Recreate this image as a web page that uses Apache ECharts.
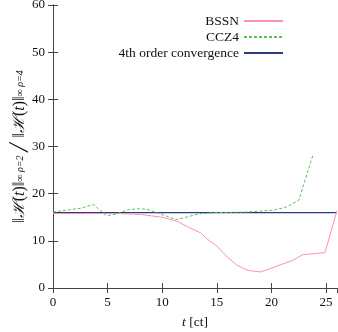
<!DOCTYPE html>
<html><head><meta charset="utf-8">
<script src="https://cdn.jsdelivr.net/npm/echarts@6/dist/echarts.min.js"></script>
<style>html,body{margin:0;padding:0;background:#fff}#c{width:338px;height:332px}</style>
</head><body><div id="c"></div>
<script>
const bsssnT = [0, 2, 4, 6, 8, 9, 10, 11.3, 12.5, 13.5, 14.1, 15, 15.6, 16.2, 16.8, 17.4, 17.9, 18.7, 19.0, 20.0, 20.8, 21.9, 22.9, 24.0, 24.9, 26.0];
const bssnV  = [15.8, 15.8, 15.8, 15.8, 15.6, 15.3, 15.0, 14.2, 12.8, 11.7, 10.4, 8.9, 7.4, 6.1, 4.9, 4.2, 3.7, 3.5, 3.4, 4.2, 4.9, 5.8, 7.1, 7.3, 7.5, 16.4];
const cczT = [0, 1.5, 2.5, 3.7, 4.9, 5.8, 6.9, 7.8, 8.6, 9.2, 10.2, 11.3, 12.5, 13.3, 15, 17.7, 20.2, 21.4, 22.5, 23.8];
const cczV = [16.1, 16.6, 16.9, 17.7, 15.3, 15.7, 16.6, 16.8, 16.7, 16.2, 15.4, 14.5, 15.2, 15.7, 16.0, 16.1, 16.5, 17.2, 18.6, 28.2];
const convT = [0, 26];
const convV = [16, 16];
const xTicks = [0, 5, 10, 15, 20, 25];
const yTicks = [0, 10, 20, 30, 40, 50, 60];

const pair = (a, b) => a.map((t, i) => [t, b[i]]);
const font = 'Liberation Serif';
const chart = echarts.init(document.getElementById('c'));
const axisLine = {show: true, lineStyle: {color: '#444', width: 1}};
chart.setOption({
  animation: false,
  grid: {left: 53, right: 1, top: 5, bottom: 44, containLabel: false, outerBoundsMode: 'none'},
  legend: {
    orient: 'vertical', right: 49, top: 9, align: 'right',
    itemWidth: 39, itemHeight: 10, itemGap: 2,
    itemStyle: {opacity: 0},
    textStyle: {fontFamily: font, fontSize: 13.5, color: '#111'},
    data: ['BSSN', 'CCZ4', '4th order convergence']
  },
  xAxis: [{
    type: 'value', min: 0, max: 26, interval: 5,
    axisLine, splitLine: {show: false},
    axisTick: {inside: true, length: 5, lineStyle: {color: '#444'}},
    axisLabel: {fontFamily: font, fontSize: 13, color: '#111', margin: 8, showMaxLabel: false},
    name: '{i|t} [ct]', nameLocation: 'middle', nameGap: 27, nameMoveOverlap: false,
    nameTextStyle: {fontFamily: font, fontSize: 13.5, color: '#111', rich: {i: {fontStyle: 'italic', fontFamily: font, fontSize: 13.5}}}
  }, {
    type: 'value', min: 0, max: 26, interval: 5, position: 'top',
    axisLine, splitLine: {show: false},
    axisTick: {inside: true, length: 5, lineStyle: {color: '#444'}},
    axisLabel: {show: false}
  }],
  yAxis: [{
    type: 'value', min: 0, max: 60, interval: 10,
    axisLine, splitLine: {show: false},
    axisTick: {inside: true, length: 5, lineStyle: {color: '#444'}},
    axisLabel: {fontFamily: font, fontSize: 13, color: '#111', margin: 8},
    name: '‖{i|ℋ}({i|t})‖{s|∞ ρ=2} ╱ ‖{i|ℋ}({i|t})‖{s|∞ ρ=4}',
    nameLocation: 'middle', nameGap: 25, nameRotate: 90, nameMoveOverlap: false,
    nameTextStyle: {fontFamily: font, fontSize: 16, color: '#111',
      rich: {i: {fontStyle: 'italic', fontFamily: font, fontSize: 16}, s: {fontFamily: font, fontSize: 10, fontStyle: 'italic'}}}
  }, {
    type: 'value', min: 0, max: 60, interval: 10, position: 'right',
    axisLine, splitLine: {show: false},
    axisTick: {inside: true, length: 5, lineStyle: {color: '#444'}},
    axisLabel: {show: false}
  }],
  series: [
    {name: 'BSSN', type: 'line', symbol: 'none', data: pair(bsssnT, bssnV),
     lineStyle: {color: '#ff8fb4', width: 1}, itemStyle: {color: '#ff8fb4'}, z: 3},
    {name: 'CCZ4', type: 'line', symbol: 'none', data: pair(cczT, cczV),
     lineStyle: {color: '#5cbf5c', width: 1, type: [3, 2]}, itemStyle: {color: '#5cbf5c'}, z: 3},
    {name: '4th order convergence', type: 'line', symbol: 'none', data: pair(convT, convV),
     lineStyle: {color: '#2c3a84', width: 1.2}, itemStyle: {color: '#2c3a84'}, z: 2}
  ]
});
</script></body></html>
